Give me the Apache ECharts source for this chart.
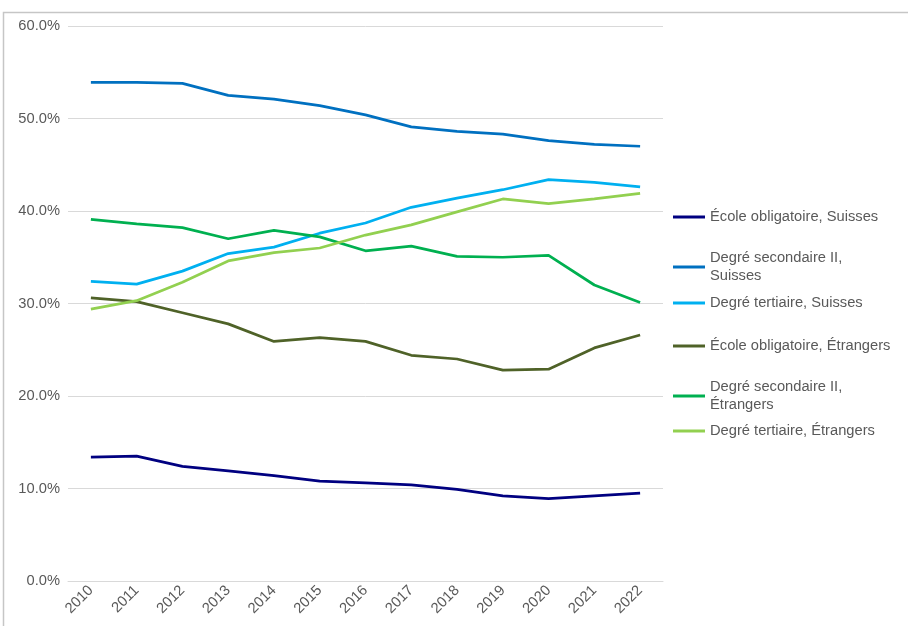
<!DOCTYPE html>
<html>
<head>
<meta charset="utf-8">
<script src="https://cdn.jsdelivr.net/npm/echarts@6/dist/echarts.min.js"></script>
<style>
  html, body { margin: 0; padding: 0; background: #fff; }
  #chart { width: 908px; height: 626px; }
</style>
</head>
<body>
<div id="chart"></div>
<script>
// Years on the horizontal axis
const years = ['2010','2011','2012','2013','2014','2015','2016','2017','2018','2019','2020','2021','2022'];

// Shares in percent, by highest level of education and nationality
const ecoleSuisses      = [13.4, 13.5, 12.4, 11.9, 11.4, 10.8, 10.6, 10.4, 9.9, 9.2, 8.9, 9.2, 9.5];
const secondaireSuisses = [53.9, 53.9, 53.8, 52.5, 52.1, 51.4, 50.4, 49.1, 48.6, 48.3, 47.6, 47.2, 47.0];
const tertiaireSuisses  = [32.4, 32.1, 33.5, 35.4, 36.1, 37.6, 38.7, 40.4, 41.4, 42.3, 43.4, 43.1, 42.6];
const ecoleEtrangers      = [30.6, 30.2, 29.0, 27.8, 25.9, 26.3, 25.9, 24.4, 24.0, 22.8, 22.9, 25.2, 26.6];
const secondaireEtrangers = [39.1, 38.6, 38.2, 37.0, 37.9, 37.2, 35.7, 36.2, 35.1, 35.0, 35.2, 32.0, 30.1];
const tertiaireEtrangers  = [29.4, 30.3, 32.3, 34.6, 35.5, 36.0, 37.4, 38.5, 39.9, 41.3, 40.8, 41.3, 41.9];

// Y axis ticks
const yTicks = [0, 10, 20, 30, 40, 50, 60];

const seriesDefs = [
  { name: 'École obligatoire, Suisses',      label: 'École obligatoire, Suisses',        data: ecoleSuisses,        color: '#000080' },
  { name: 'Degré secondaire II, Suisses',    label: 'Degré secondaire II,\nSuisses',     data: secondaireSuisses,   color: '#0070C0' },
  { name: 'Degré tertiaire, Suisses',        label: 'Degré tertiaire, Suisses',          data: tertiaireSuisses,    color: '#00B0F0' },
  { name: 'École obligatoire, Étrangers',    label: 'École obligatoire, Étrangers',      data: ecoleEtrangers,      color: '#4F6228' },
  { name: 'Degré secondaire II, Étrangers',  label: 'Degré secondaire II,\nÉtrangers',   data: secondaireEtrangers, color: '#00B050' },
  { name: 'Degré tertiaire, Étrangers',      label: 'Degré tertiaire, Étrangers',        data: tertiaireEtrangers,  color: '#92D050' }
];

// Vertical placement of each legend entry (top of its box)
const legendTops = [203, 244, 289, 332, 373, 417];

const font = '"Liberation Sans", Arial, sans-serif';
const textColor = '#595959';
const fontSize = 14.7;

const chart = echarts.init(document.getElementById('chart'), null, { renderer: 'canvas' });

const legends = seriesDefs.map((s, i) => ({
  data: [s.name],
  left: 668,
  top: legendTops[i],
  orient: 'vertical',
  icon: 'rect',
  itemWidth: 32,
  itemHeight: 3,
  selectedMode: false,
  formatter: () => s.label,
  textStyle: { fontFamily: font, fontSize: fontSize, color: textColor, lineHeight: 18 }
}));

chart.setOption({
  animation: false,
  backgroundColor: '#ffffff',
  graphic: [{
    type: 'rect',
    shape: { x: 3.5, y: 12.5, width: 1000, height: 1000 },
    style: { fill: 'none', stroke: '#c6c6c6', lineWidth: 1.5 },
    silent: true
  }],
  legend: legends,
  grid: { left: 68, right: 245, top: 26, bottom: 45, containLabel: false },
  xAxis: {
    type: 'category',
    data: years,
    boundaryGap: true,
    axisLine: { show: true, lineStyle: { color: '#d9d9d9', width: 1 } },
    axisTick: { show: false },
    axisLabel: {
      rotate: 45,
      margin: 7,
      fontFamily: font,
      fontSize: fontSize,
      color: textColor
    }
  },
  yAxis: {
    type: 'value',
    min: yTicks[0],
    max: yTicks[yTicks.length - 1],
    interval: yTicks[1] - yTicks[0],
    axisLine: { show: false },
    axisTick: { show: false },
    splitLine: { lineStyle: { color: '#d9d9d9', width: 1 } },
    axisLabel: {
      formatter: v => v.toFixed(1) + '%',
      fontFamily: font,
      fontSize: fontSize,
      color: textColor,
      margin: 8
    }
  },
  series: seriesDefs.map(s => ({
    name: s.name,
    type: 'line',
    data: s.data,
    symbol: 'none',
    smooth: false,
    lineStyle: { color: s.color, width: 2.75 },
    itemStyle: { color: s.color }
  }))
});
</script>
</body>
</html>
